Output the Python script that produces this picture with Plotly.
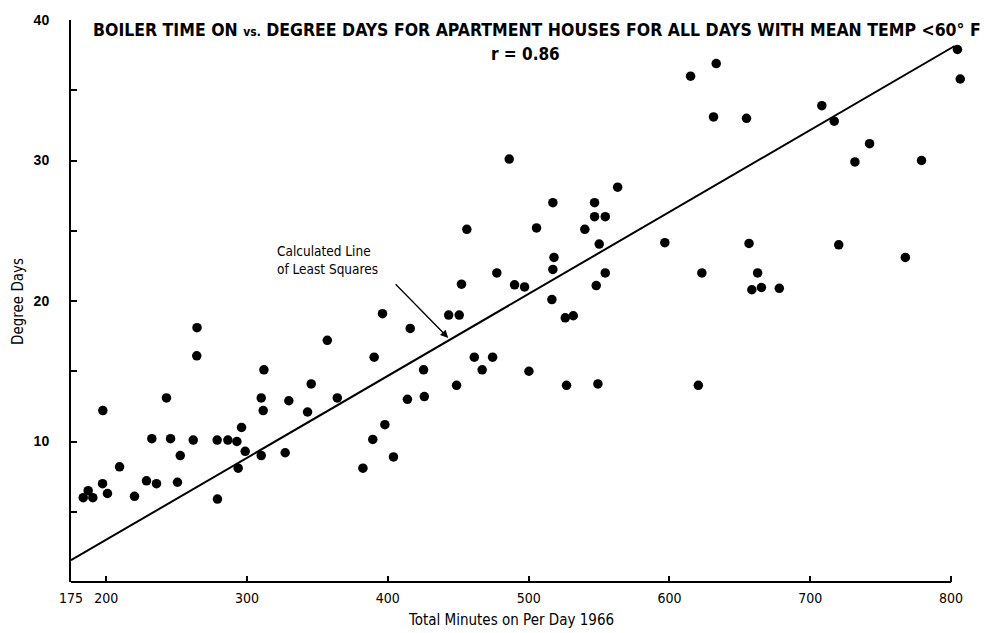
import plotly.graph_objects as go

# Boiler run time (minutes/day, 1966) and degree days, apartment houses
minutes_on = [
    183.7, 187.2, 190.5, 197.4, 200.9, 197.6, 209.5, 220.1, 228.6, 232.4,
    235.7, 242.8, 245.7, 250.6, 252.6, 261.8, 264.3, 264.5, 278.8, 279.0,
    286.4, 292.8, 293.7, 296.1, 298.7, 310.1, 311.5, 312.0, 310.1, 327.1,
    329.7, 343.0, 345.6, 357.0, 364.1, 382.3, 389.3, 390.3, 396.2, 397.9,
    404.0, 413.9, 415.9, 425.4, 425.9, 443.2, 448.8, 450.7, 452.3, 456.1,
    461.4, 467.0, 474.4, 477.4, 486.2, 490.0, 497.1, 500.2, 505.6, 516.5,
    517.2, 518.0, 517.2, 526.0, 531.7, 526.9, 539.9, 546.8, 546.8, 548.0,
    549.2, 550.1, 554.4, 554.4, 563.2, 596.7, 615.0, 620.5, 623.0, 631.3,
    633.2, 654.7, 656.5, 658.5, 662.6, 665.3, 678.0, 708.2, 717.0, 720.2,
    731.7, 742.1, 767.5, 779.0, 804.5, 806.5,
]
degree_days = [
    6.0, 6.5, 6.0, 7.0, 6.3, 12.2, 8.2, 6.1, 7.2, 10.2,
    7.0, 13.1, 10.2, 7.1, 9.0, 10.1, 16.1, 18.1, 10.1, 5.9,
    10.1, 10.0, 8.1, 11.0, 9.3, 13.1, 12.2, 15.1, 9.0, 9.2,
    12.9, 12.1, 14.1, 17.2, 13.1, 8.1, 10.15, 16.0, 19.1, 11.2,
    8.9, 13.0, 18.05, 15.1, 13.2, 19.0, 14.0, 19.0, 21.2, 25.1,
    16.0, 15.1, 16.0, 22.0, 30.1, 21.15, 21.0, 15.0, 25.2, 20.1,
    22.25, 23.1, 27.0, 18.8, 18.95, 14.0, 25.1, 27.0, 26.0, 21.1,
    14.1, 24.05, 26.0, 22.0, 28.1, 24.15, 36.0, 14.0, 22.0, 33.1,
    36.9, 33.0, 24.1, 20.8, 22.0, 20.96, 20.9, 33.9, 32.8, 24.0,
    29.9, 31.2, 23.1, 30.0, 37.9, 35.8,
]

# Least-squares line as drawn (end points)
fit_minutes = [175, 802.5]
fit_degree_days = [1.55, 38.15]

x_tick_values = [175, 200, 300, 400, 500, 600, 700, 800]
x_tick_labels = ["175", "200", "300", "400", "500", "600", "700", "800"]
y_tick_values = [5, 10, 15, 20, 25, 30, 35, 40]
y_tick_labels = ["", "10", "", "20", "", "30", "", "40"]

title_text = ("BOILER TIME ON <span style='font-size:12px'>vs.</span> DEGREE DAYS FOR "
              "APARTMENT HOUSES FOR ALL DAYS WITH MEAN TEMP &lt;60° F")
r_text = "r = 0.86"
note_text = "Calculated Line<br>of Least Squares"
note_tip = (442.9, 17.37)
note_tail = (404.5, 21.3)
note_pos = (320.0, 22.9)

NARROW = "Liberation Sans Narrow, DejaVu Sans Condensed, Arial Narrow, Liberation Sans, sans-serif"
SANS = "Liberation Sans, Arial, sans-serif"

# Plot frame: x axis drawn 175..800, plotting room left a little past 800
X_MIN, X_AXIS_END, X_ROOM = 175, 800, 812
PLOT_LEFT, PX_PER_MIN = 71, 880 / (X_AXIS_END - X_MIN)
PLOT_RIGHT = PLOT_LEFT + PX_PER_MIN * (X_ROOM - X_MIN)
PLOT_TOP, PLOT_BOTTOM = 12, 582
W, H = 988, 633
plot_w = PLOT_RIGHT - PLOT_LEFT
plot_h = PLOT_BOTTOM - PLOT_TOP


def px_x(p):
    return (p - PLOT_LEFT) / plot_w


def px_y(p):
    return (PLOT_BOTTOM - p) / plot_h


fig = go.Figure()

fig.add_trace(go.Scatter(
    x=fit_minutes, y=fit_degree_days, mode="lines",
    line=dict(color="black", width=2), hoverinfo="skip", showlegend=False,
))
fig.add_trace(go.Scatter(
    x=minutes_on, y=degree_days, mode="markers", cliponaxis=False,
    marker=dict(color="black", size=9.5, line=dict(width=0)),
    showlegend=False,
))

fig.update_xaxes(
    range=[X_MIN, X_ROOM], tickmode="array", tickvals=x_tick_values, ticktext=x_tick_labels,
    ticks="inside", ticklen=6, tickwidth=1.5, tickcolor="black",
    showline=False, showgrid=False, zeroline=False,
    ticklabelstandoff=6,
    tickfont=dict(family=NARROW, size=14, color="black"),
)
fig.update_yaxes(
    range=[0, 40], tickmode="array", tickvals=y_tick_values, ticktext=y_tick_labels,
    ticks="inside", ticklen=6, tickwidth=1.5, tickcolor="black",
    showline=True, linewidth=2, linecolor="black", showgrid=False, zeroline=False,
    ticklabelstandoff=17,
    tickfont=dict(family=SANS, size=14, color="black", weight="bold"),
)

fig.update_layout(
    width=W, height=H,
    margin=dict(l=PLOT_LEFT, r=W - PLOT_RIGHT, t=PLOT_TOP, b=H - PLOT_BOTTOM),
    plot_bgcolor="white", paper_bgcolor="white",
    shapes=[
        # bottom axis line, ending at 800
        dict(type="line", xref="paper", yref="paper",
             x0=0, x1=(X_AXIS_END - X_MIN) / (X_ROOM - X_MIN), y0=0, y1=0,
             line=dict(color="black", width=2)),
    ],
    annotations=[
        dict(text=title_text, xref="paper", yref="paper",
             x=px_x(983), y=px_y(22), xanchor="right", yanchor="middle",
             showarrow=False, font=dict(family=NARROW, size=17.5, color="black", weight="bold")),
        dict(text=r_text, xref="paper", yref="paper",
             x=px_x(525), y=px_y(46), xanchor="center", yanchor="middle",
             showarrow=False, font=dict(family=NARROW, size=17, color="black", weight="bold")),
        dict(text=note_text, x=note_pos[0], y=note_pos[1], xref="x", yref="y",
             xanchor="left", yanchor="middle", align="left", showarrow=False,
             font=dict(family=NARROW, size=13.5, color="black")),
        dict(text="", x=note_tip[0], y=note_tip[1], xref="x", yref="y",
             ax=note_tail[0], ay=note_tail[1], axref="x", ayref="y",
             showarrow=True, arrowhead=2, arrowsize=1.2, arrowwidth=1.3, arrowcolor="black"),
        dict(text="Degree Days", xref="paper", yref="paper",
             x=px_x(18), y=0.5, xanchor="center", yanchor="middle", textangle=-90,
             showarrow=False, font=dict(family=NARROW, size=15, color="black")),
        dict(text="Total Minutes on Per Day 1966", xref="paper", yref="paper",
             x=px_x(511), y=px_y(621), xanchor="center", yanchor="middle",
             showarrow=False, font=dict(family=NARROW, size=15, color="black")),
    ],
)

fig.write_html("out.html")
